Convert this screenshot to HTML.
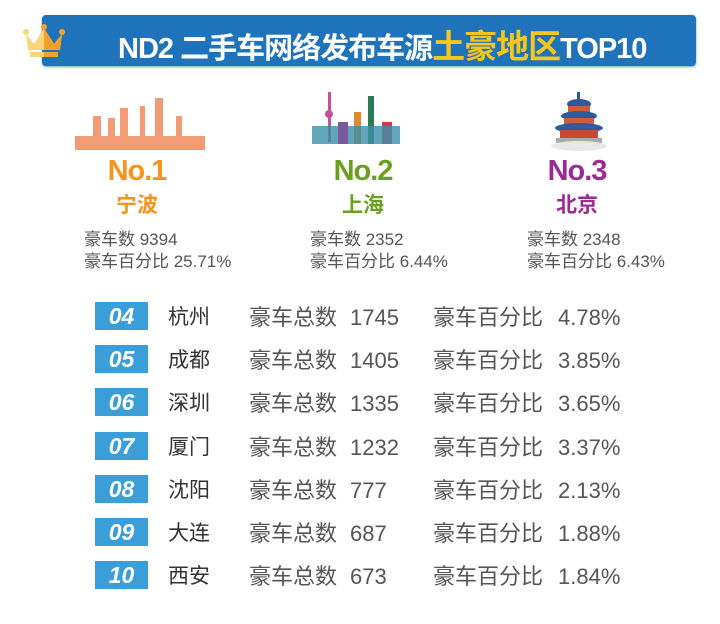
<!DOCTYPE html>
<html><head><meta charset="utf-8"><style>
body{margin:0;width:720px;height:624px;background:#fff;position:relative;overflow:hidden;font-family:"Liberation Sans","Noto Sans CJK SC",sans-serif}
.a{position:absolute;white-space:nowrap}
.banner{position:absolute;left:42px;top:15px;width:654px;height:51px;background:#1f73bb;border-radius:4px;box-shadow:0 1px 2px #6aa}
.title{left:118px;top:20px;font-size:29px;font-weight:bold;color:#fff;letter-spacing:-1px}
.title span{color:#f7c61c;font-size:33px}
.no{font-size:29px;font-weight:bold;letter-spacing:-1px;text-align:center;width:120px}
.city{font-size:21px;font-weight:bold;text-align:center;width:120px}
.st{font-size:17px;color:#555;line-height:22px}
.box{position:absolute;left:95px;width:53px;height:28px;background:#3a9fd8;color:#fff;font-weight:bold;font-style:italic;font-size:23px;text-align:center;line-height:29px}
.r{font-size:21px;color:#333;line-height:28px;margin-top:2px}
.g{font-size:22px;color:#555;line-height:28px;margin-top:2px}
</style></head><body>
<div class="banner"></div>
<svg class="a" style="left:22px;top:20px" width="44" height="40" viewBox="0 0 44 40">
<polygon points="4,14 12,24 22,8 32,24 40,14 38,30 6,30" fill="#f9d77a"/>
<polygon points="22,8 32,24 40,14 38,30 22,30" fill="#f3a12b"/>
<circle cx="4" cy="12" r="3" fill="#f9d77a"/><circle cx="22" cy="7" r="3" fill="#f3a12b"/><circle cx="40" cy="12" r="3" fill="#f3a12b"/>
<rect x="8" y="32" width="14" height="5" fill="#f9d77a"/><rect x="22" y="32" width="14" height="5" fill="#f3a12b"/>
</svg>
<div class="a title">ND2 二手车网络发布车源<span>土豪地区</span>TOP10</div>
<svg class="a" style="left:75px;top:98px" width="130" height="56"><g fill="#f08a5d" opacity=".85">
<rect x="0" y="38" width="130" height="14"/><rect x="18" y="18" width="8" height="22"/><rect x="33" y="20" width="7" height="20"/><rect x="45" y="10" width="8" height="30"/><rect x="65" y="8" width="5" height="32"/><rect x="80" y="0" width="8" height="40"/><rect x="101" y="18" width="6" height="22"/></g></svg>
<svg class="a" style="left:310px;top:92px" width="92" height="58"><g>
<rect x="18" y="0" width="3" height="50" fill="#c7509a"/><circle cx="19" cy="22" r="4" fill="#c7509a"/>
<rect x="58" y="4" width="6" height="48" fill="#2d7b53"/><rect x="44" y="20" width="7" height="32" fill="#e08a2c"/>
<rect x="72" y="30" width="10" height="22" fill="#c83c4c"/><rect x="2" y="34" width="88" height="18" fill="#3a8faa" opacity=".8"/>
<rect x="28" y="30" width="10" height="22" fill="#7a5a9c"/></g></svg>
<svg class="a" style="left:548px;top:92px" width="62" height="62"><g>
<rect x="29" y="0" width="3" height="8" fill="#2d5a9c"/><ellipse cx="31" cy="12" rx="12" ry="5" fill="#2d5a9c"/>
<rect x="20" y="14" width="22" height="8" fill="#d05a3a"/><ellipse cx="31" cy="24" rx="18" ry="5" fill="#2d5a9c"/>
<rect x="16" y="26" width="30" height="8" fill="#d05a3a"/><ellipse cx="31" cy="36" rx="24" ry="5" fill="#2d5a9c"/>
<rect x="12" y="38" width="38" height="8" fill="#c84a34"/><rect x="8" y="46" width="46" height="5" fill="#aaa"/><ellipse cx="31" cy="54" rx="28" ry="5" fill="#e8e8e8"/></g></svg>
<div class="a no" style="left:77px;top:155px;color:#f7941d">No.1</div>
<div class="a city" style="left:77px;top:189px;color:#f7941d">宁波</div>
<div class="a no" style="left:303px;top:155px;color:#6aa01e">No.2</div>
<div class="a city" style="left:303px;top:189px;color:#6aa01e">上海</div>
<div class="a no" style="left:517px;top:155px;color:#9c2a95">No.3</div>
<div class="a city" style="left:517px;top:189px;color:#9c2a95">北京</div>
<div class="a st" style="left:84px;top:229px">豪车数 9394<br>豪车百分比 25.71%</div>
<div class="a st" style="left:310px;top:229px">豪车数 2352<br>豪车百分比 6.44%</div>
<div class="a st" style="left:527px;top:229px">豪车数 2348<br>豪车百分比 6.43%</div>

<div class="box" style="top:302px">04</div><div class="a r" style="left:168px;top:302px">杭州</div><div class="a g" style="left:249px;top:302px">豪车总数</div><div class="a g" style="left:350px;top:302px">1745</div><div class="a g" style="left:433px;top:302px">豪车百分比</div><div class="a g" style="left:558px;top:302px">4.78%</div>
<div class="box" style="top:345px">05</div><div class="a r" style="left:168px;top:345px">成都</div><div class="a g" style="left:249px;top:345px">豪车总数</div><div class="a g" style="left:350px;top:345px">1405</div><div class="a g" style="left:433px;top:345px">豪车百分比</div><div class="a g" style="left:558px;top:345px">3.85%</div>
<div class="box" style="top:388px">06</div><div class="a r" style="left:168px;top:388px">深圳</div><div class="a g" style="left:249px;top:388px">豪车总数</div><div class="a g" style="left:350px;top:388px">1335</div><div class="a g" style="left:433px;top:388px">豪车百分比</div><div class="a g" style="left:558px;top:388px">3.65%</div>
<div class="box" style="top:432px">07</div><div class="a r" style="left:168px;top:432px">厦门</div><div class="a g" style="left:249px;top:432px">豪车总数</div><div class="a g" style="left:350px;top:432px">1232</div><div class="a g" style="left:433px;top:432px">豪车百分比</div><div class="a g" style="left:558px;top:432px">3.37%</div>
<div class="box" style="top:475px">08</div><div class="a r" style="left:168px;top:475px">沈阳</div><div class="a g" style="left:249px;top:475px">豪车总数</div><div class="a g" style="left:350px;top:475px">777</div><div class="a g" style="left:433px;top:475px">豪车百分比</div><div class="a g" style="left:558px;top:475px">2.13%</div>
<div class="box" style="top:518px">09</div><div class="a r" style="left:168px;top:518px">大连</div><div class="a g" style="left:249px;top:518px">豪车总数</div><div class="a g" style="left:350px;top:518px">687</div><div class="a g" style="left:433px;top:518px">豪车百分比</div><div class="a g" style="left:558px;top:518px">1.88%</div>
<div class="box" style="top:561px">10</div><div class="a r" style="left:168px;top:561px">西安</div><div class="a g" style="left:249px;top:561px">豪车总数</div><div class="a g" style="left:350px;top:561px">673</div><div class="a g" style="left:433px;top:561px">豪车百分比</div><div class="a g" style="left:558px;top:561px">1.84%</div>
</body></html>
